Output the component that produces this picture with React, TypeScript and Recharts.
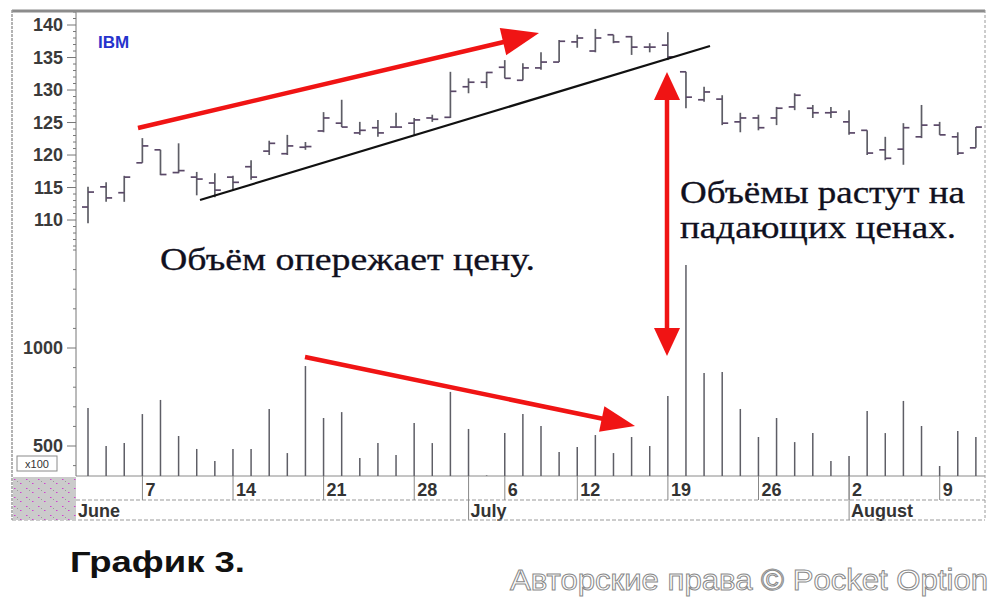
import React from "react";
import { ComposedChart, Bar, XAxis, YAxis } from "recharts";

// IBM daily bars, June 2 – August 11
const dates = [
  "Jun 2", "Jun 3", "Jun 4", "Jun 7", "Jun 8", "Jun 9", "Jun 10", "Jun 11",
  "Jun 14", "Jun 15", "Jun 16", "Jun 17", "Jun 18", "Jun 21", "Jun 22", "Jun 23",
  "Jun 24", "Jun 25", "Jun 28", "Jun 29", "Jun 30", "Jul 1", "Jul 2", "Jul 6",
  "Jul 7", "Jul 8", "Jul 9", "Jul 12", "Jul 13", "Jul 14", "Jul 15", "Jul 16",
  "Jul 19", "Jul 20", "Jul 21", "Jul 22", "Jul 23", "Jul 26", "Jul 27", "Jul 28",
  "Jul 29", "Jul 30", "Aug 2", "Aug 3", "Aug 4", "Aug 5", "Aug 6", "Aug 9",
  "Aug 10", "Aug 11",
];
const opens = [
  112, 115.1, 114.2, 118.8, 120.8, 117.3, 116.6, 115.7, 116.6, 118.2, 120.6, 120.2,
  121.2, 123.7, 124.9, 123.4, 124.2, 124.3, 124.9, 125.7, 125.8, 130.5, 131.2, 133.5,
  131.5, 133.4, 134.3, 137.4, 136, 138.5, 138.2, 136.6, 136.9, 132.8, 128.5, 128.6,
  125.1, 125.7, 125.7, 127.4, 127.2, 126.5, 125.1, 123.8, 120.8, 120.9, 122.8, 124.6,
  122.8, 121.1,
];
const highs = [
  115.1, 115.8, 116.8, 122.6, 120.8, 121.8, 117.4, 117.2, 116.8, 119.2, 122.2, 123.1,
  122, 126.6, 128.5, 125.1, 125.4, 126.5, 125.7, 126.2, 132.8, 131.8, 132.8, 134.6,
  134.1, 135.8, 137.7, 138.5, 139.4, 138.5, 138.3, 137.2, 138.9, 132.8, 130.5, 129.2,
  126.5, 126.2, 127.4, 129.5, 127.7, 127.4, 126.9, 123.8, 122.8, 124.9, 127.7, 125.1,
  123.5, 124.3,
];
const lows = [
  109.5, 112.8, 112.8, 118.8, 116.9, 117.2, 113.8, 113.5, 114.6, 116.2, 120, 120,
  120.8, 123.5, 124.3, 123.1, 122.8, 124.2, 123.1, 125.1, 125.7, 129.5, 130.3, 131.8,
  131.5, 133.1, 134.3, 136.5, 135.8, 137.2, 135.4, 135.8, 134.6, 127.2, 128.2, 124.6,
  123.5, 123.8, 124.6, 126.9, 125.7, 125.7, 123.1, 120, 119.2, 118.5, 122.6, 123.1,
  120, 121.1,
];
const closes = [
  114.3, 113.4, 116.6, 121.4, 117, 117.6, 116.3, 114.6, 115.8, 116.6, 121.8, 121.4,
  121.3, 125.7, 124.3, 123.8, 123.4, 124.3, 125.4, 125.5, 129.8, 131.2, 132.7, 131.8,
  133.4, 134.3, 137.5, 138, 138, 137.4, 136.6, 136.6, 135.1, 128.9, 129.7, 124.9,
  125.7, 124.2, 127.2, 129.2, 126.5, 126.6, 123.4, 120.3, 119.5, 124.2, 124.6, 123.1,
  120.3, 124.3,
];
// volume, x100 shares
const volumes = [
  694, 500, 515, 663, 735, 551, 485, 423, 485, 485, 689, 464, 908, 643, 673, 439,
  515, 454, 617, 515, 776, 587, 350, 566, 663, 602, 469, 495, 556, 464, 546, 500,
  755, 1423, 872, 878, 689, 546, 643, 520, 566, 423, 449, 679, 566, 730, 602, 398,
  577, 546,
];

const dayTicks = ["Jun 7", "Jun 14", "Jun 21", "Jun 28", "Jul 6", "Jul 12", "Jul 19", "Jul 26", "Aug 2", "Aug 9"];
const monthTicks = ["Jun 2", "Jul 1", "Aug 2"];
const monthNames = ["June", "July", "August"];
const priceLabels = [110, 115, 120, 125, 130, 135, 140];
const priceMinor = Array.from({ length: 37 }, (_, i) => 106 + i);
const volumeLabels = [500, 1000];
const volumeMinor = [400, 500, 600, 700, 800, 900, 1000, 1100, 1200, 1300, 1400, 1500];

const data = dates.map((date, i) => ({
  date,
  open: opens[i],
  high: highs[i],
  low: lows[i],
  close: closes[i],
  volume: volumes[i],
}));

const W = 1000;
const H = 600;
const FONT = "'Liberation Sans', Arial, sans-serif";
const SERIF = "'Liberation Serif', 'Times New Roman', serif";
const BAR = "#5e5e66";
const RED = "#f01414";

const OhlcShape = (props: any) => {
  const { x, y, width, height, payload } = props;
  const cx = x + width / 2;
  const top = Math.min(y, y + height);
  const bottom = Math.max(y, y + height);
  const span = payload.high - payload.low || 1;
  const toY = (v: number) => top + ((payload.high - v) / span) * (bottom - top);
  return (
    <g stroke={BAR} strokeWidth={1.7}>
      <line x1={cx} x2={cx} y1={top} y2={bottom} />
      <line x1={cx - 6} x2={cx} y1={toY(payload.open)} y2={toY(payload.open)} stroke="#5a4868" />
      <line x1={cx} x2={cx + 6} y1={toY(payload.close)} y2={toY(payload.close)} stroke="#5a4868" />
    </g>
  );
};

const VolumeShape = (props: any) => {
  const { x, y, width, height } = props;
  const cx = x + width / 2;
  return <line x1={cx} x2={cx} y1={Math.min(y, y + height)} y2={Math.max(y, y + height)} stroke={BAR} strokeWidth={1.5} />;
};

const makeYTick = (labels: number[]) => (props: any) => {
  const { x, y, payload } = props;
  const major = labels.includes(payload.value);
  return (
    <g>
      <line x1={x - (major ? 9 : 3)} x2={x} y1={y} y2={y} stroke="#777" strokeWidth={1} />
      {major && (
        <text x={x - 13} y={y + 6} textAnchor="end" fontFamily={FONT} fontSize={18} fontWeight="bold" fill="#3a3a3a">
          {payload.value}
        </text>
      )}
    </g>
  );
};

const DayTick = (props: any) => {
  const { x, y, payload } = props;
  return (
    <g>
      <line x1={x} x2={x} y1={y} y2={y + 24} stroke="#888" />
      <text x={x + 3} y={y + 20} fontFamily={FONT} fontSize={18} fontWeight="bold" fill="#333">
        {payload.value.split(" ")[1]}
      </text>
    </g>
  );
};

const MonthTick = (props: any) => {
  const { x, y, index } = props;
  const first = index === 0;
  return (
    <g>
      {!first && <line x1={x} x2={x} y1={y - 24} y2={y + 20} stroke="#888" />}
      <text x={first ? x - 10 : x + 2} y={y + 17} fontFamily={FONT} fontSize={18} fontWeight="bold" fill="#333">
        {monthNames[index]}
      </text>
    </g>
  );
};

const arrowHead = (tx: number, ty: number, fx: number, fy: number, len: number, half: number) => {
  const dx = tx - fx;
  const dy = ty - fy;
  const d = Math.hypot(dx, dy);
  const ux = dx / d;
  const uy = dy / d;
  const bx = tx - ux * len;
  const by = ty - uy * len;
  return `${tx},${ty} ${bx - uy * half},${by + ux * half} ${bx + uy * half},${by - ux * half}`;
};

export default function App() {
  const margin = { top: 10, right: 15, left: 10, bottom: 80 };
  return (
    <div style={{ position: "absolute", left: 0, top: 0, width: W, height: H, background: "#fff" }}>
      {/* price pane */}
      <div style={{ position: "absolute", left: 0, top: 0 }}>
        <ComposedChart width={W} height={H} data={data} margin={margin}>
          <XAxis
            dataKey="date"
            ticks={dayTicks}
            interval={0}
            tick={<DayTick />}
            tickLine={false}
            tickSize={0}
            tickMargin={0}
            height={24}
            padding={{ left: 3, right: 0 }}
            axisLine={{ stroke: "#8a8a8a" }}
          />
          <XAxis
            xAxisId="m"
            dataKey="date"
            ticks={monthTicks}
            interval={0}
            tick={<MonthTick />}
            tickLine={false}
            tickSize={0}
            tickMargin={0}
            height={20}
            padding={{ left: 3, right: 0 }}
            axisLine={{ stroke: "#999", strokeDasharray: "4 2" }}
          />
          <YAxis
            width={66}
            domain={[70.62, 142.31]}
            allowDataOverflow
            ticks={priceMinor}
            interval={0}
            tick={makeYTick(priceLabels)}
            tickLine={false}
            tickSize={0}
            tickMargin={0}
            axisLine={{ stroke: "#777" }}
          />
          <Bar
            dataKey={(d: any) => [d.low, d.high]}
            barSize={12}
            shape={<OhlcShape />}
            isAnimationActive={false}
          />
        </ComposedChart>
      </div>

      {/* volume pane */}
      <div style={{ position: "absolute", left: 0, top: 0 }}>
        <ComposedChart width={W} height={H} data={data} margin={{ top: 10, right: 15, left: 10, bottom: 124 }}>
          <XAxis dataKey="date" hide padding={{ left: 3, right: 0 }} />
          <YAxis
            width={66}
            domain={[347, 2724.5]}
            allowDataOverflow
            ticks={volumeMinor}
            interval={0}
            tick={makeYTick(volumeLabels)}
            tickLine={false}
            tickSize={0}
            tickMargin={0}
            axisLine={false}
          />
          <Bar dataKey="volume" barSize={6} shape={<VolumeShape />} isAnimationActive={false} />
        </ComposedChart>
      </div>

      {/* frame, annotations, captions */}
      <svg width={W} height={H} style={{ position: "absolute", left: 0, top: 0, pointerEvents: "none" }}>
        <defs>
          <pattern id="dots" width="12" height="9" patternUnits="userSpaceOnUse">
            <rect width="12" height="9" fill="#cbcbcb" />
            <rect x="2" y="2" width="1.5" height="1" fill="#d040d0" />
            <rect x="8" y="6" width="1.5" height="1" fill="#d040d0" />
            <rect x="5" y="4" width="1" height="1" fill="#9a9a9a" />
          </pattern>
        </defs>
        <line x1={12} x2={985} y1={11} y2={11} stroke="#8c8c8c" strokeWidth={3} />
        <line x1={12} x2={12} y1={10} y2={520} stroke="#9a9a9a" strokeWidth={1.5} strokeDasharray="3 1" />
        <line x1={985} x2={985} y1={10} y2={520} stroke="#9a9a9a" strokeWidth={1} strokeDasharray="3 2" />
        <line x1={12} x2={985} y1={520} y2={520} stroke="#9a9a9a" strokeWidth={1} strokeDasharray="4 2" />
        <rect x={13} y={477} width={63} height={43} fill="url(#dots)" />
        <rect x={17} y={456} width={40} height={15} fill="#fff" stroke="#8a8a8a" />
        <text x={37} y={468} textAnchor="middle" fontFamily={FONT} fontSize={11} fill="#333">x100</text>

        <text x={98} y={48} fontFamily={FONT} fontSize={17} fontWeight="bold" fill="#2633cc">IBM</text>

        {/* trend line */}
        <line x1={200} y1={200} x2={710} y2={46} stroke="#111" strokeWidth={2.2} />

        {/* rising arrow */}
        <line x1={138} y1={128} x2={508} y2={41} stroke={RED} strokeWidth={4.5} />
        <polygon points={arrowHead(539, 33, 138, 128, 37, 14)} fill={RED} />

        {/* falling volume arrow */}
        <line x1={305} y1={357} x2={604} y2={419} stroke={RED} strokeWidth={4.5} />
        <polygon points={arrowHead(635, 426, 305, 357, 34, 13)} fill={RED} />

        {/* vertical double arrow */}
        <line x1={667} y1={98} x2={667} y2={330} stroke={RED} strokeWidth={4.5} />
        <polygon points={arrowHead(667, 72, 667, 200, 28, 13)} fill={RED} />
        <polygon points={arrowHead(667, 356, 667, 200, 28, 13)} fill={RED} />

        <text x={160} y={270} fontFamily={SERIF} fontSize={31} fill="#101020" stroke="#101020" strokeWidth={0.3} textLength={375} lengthAdjust="spacingAndGlyphs">
          Объём опережает цену.
        </text>
        <text x={680} y={203} fontFamily={SERIF} fontSize={31} fill="#101020" stroke="#101020" strokeWidth={0.3} textLength={285} lengthAdjust="spacingAndGlyphs">
          Объёмы растут на
        </text>
        <text x={680} y={238} fontFamily={SERIF} fontSize={31} fill="#101020" stroke="#101020" strokeWidth={0.3} textLength={276} lengthAdjust="spacingAndGlyphs">
          падающих ценах.
        </text>

        <text x={70} y={572} fontFamily={FONT} fontSize={30} fontWeight="bold" fill="#111" textLength={175} lengthAdjust="spacingAndGlyphs">
          График 3.
        </text>
        <text x={510} y={590} fontFamily={FONT} fontSize={30} fill="#fff" stroke="#8a8a8a" strokeWidth={1} textLength={478} lengthAdjust="spacingAndGlyphs">
          Авторские права © Pocket Option
        </text>
      </svg>
    </div>
  );
}
